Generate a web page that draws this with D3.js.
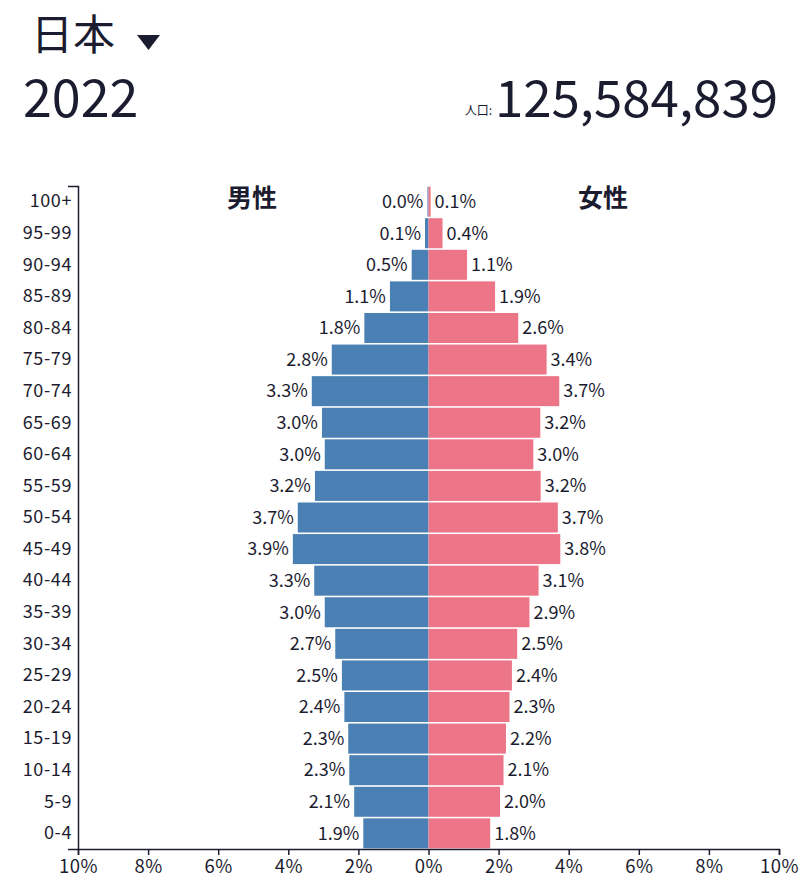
<!DOCTYPE html>
<html>
<head>
<meta charset="utf-8">
<script src="https://cdn.jsdelivr.net/npm/d3@7"></script>
<style>
  body { margin: 0; background: #fff; }
  svg text { font-family: "Noto Sans CJK JP", "Noto Sans", sans-serif; fill: #1c1c30; }
</style>
</head>
<body>
<svg id="chart"></svg>
<script>
var width = 800;
var height = 894;

// age groups, top to bottom
var ages = ["100+", "95-99", "90-94", "85-89", "80-84", "75-79", "70-74", "65-69",
  "60-64", "55-59", "50-54", "45-49", "40-44", "35-39", "30-34", "25-29",
  "20-24", "15-19", "10-14", "5-9", "0-4"];

// share of total population (%)
var male = [0.03, 0.1, 0.48, 1.1, 1.83, 2.76, 3.33, 3.04, 2.96, 3.24, 3.73, 3.87,
  3.26, 2.96, 2.66, 2.47, 2.4, 2.29, 2.26, 2.12, 1.86];
var female = [0.06, 0.4, 1.1, 1.9, 2.56, 3.37, 3.73, 3.19, 2.99, 3.2, 3.69, 3.76,
  3.14, 2.88, 2.53, 2.38, 2.31, 2.21, 2.14, 2.04, 1.76];

var xTicks = [-10, -8, -6, -4, -2, 0, 2, 4, 6, 8, 10];

var country = "日本";
var year = "2022";
var population = 125584839;

var ink = "#1c1c30";
var maleColor = "#4a80b4";
var femaleColor = "#ec7587";

var svg = d3.select("#chart")
  .attr("width", width)
  .attr("height", height);

// header
svg.append("text")
  .attr("x", 31).attr("y", 50)
  .attr("font-size", "42px")
  .text(country);

svg.append("path")
  .attr("d", "M137,35 L160,35 L148.5,50 Z")
  .attr("fill", ink);

svg.append("text")
  .attr("x", 23).attr("y", 117)
  .attr("font-size", "52px")
  .attr("font-family", "'Noto Sans', sans-serif")
  .text(year);

svg.append("text")
  .attr("x", 778).attr("y", 117)
  .attr("text-anchor", "end")
  .attr("font-size", "51px")
  .attr("font-family", "'Noto Sans', sans-serif")
  .text(d3.format(",")(population));

svg.append("text")
  .attr("x", 492).attr("y", 115)
  .attr("text-anchor", "end")
  .attr("font-size", "12px")
  .text("人口:");

// scales
var x = d3.scaleLinear().domain([-10, 10]).range([78, 779]);
var y = d3.scaleBand().domain(ages).range([186, 849])
  .paddingInner(0.05).paddingOuter(0.02);

var rows = ages.map(function (a, i) {
  return { age: a, male: male[i], female: female[i] };
});

var g = svg.append("g");

g.selectAll(".bar_m")
  .data(rows).enter().append("rect")
  .attr("class", "bar_m")
  .attr("x", function (d) { return x(-d.male); })
  .attr("y", function (d) { return y(d.age); })
  .attr("width", function (d) { return x(0) - x(-d.male); })
  .attr("height", y.bandwidth())
  .attr("fill", maleColor);

g.selectAll(".bar_f")
  .data(rows).enter().append("rect")
  .attr("class", "bar_f")
  .attr("x", x(0))
  .attr("y", function (d) { return y(d.age); })
  .attr("width", function (d) { return x(d.female) - x(0); })
  .attr("height", y.bandwidth())
  .attr("fill", femaleColor);

var fmt = function (v) { return v.toFixed(1) + "%"; };

g.selectAll(".lbl_m")
  .data(rows).enter().append("text")
  .attr("class", "lbl_m")
  .attr("x", function (d) { return x(-d.male) - 4; })
  .attr("y", function (d) { return y(d.age) + y.bandwidth() / 2; })
  .attr("dy", "0.35em")
  .attr("text-anchor", "end")
  .style("font-size", "18px")
  .text(function (d) { return fmt(d.male); });

g.selectAll(".lbl_f")
  .data(rows).enter().append("text")
  .attr("class", "lbl_f")
  .attr("x", function (d) { return x(d.female) + 4; })
  .attr("y", function (d) { return y(d.age) + y.bandwidth() / 2; })
  .attr("dy", "0.35em")
  .style("font-size", "18px")
  .text(function (d) { return fmt(d.female); });

// axes
var yAxis = svg.append("g")
  .attr("transform", "translate(78,0)")
  .call(d3.axisLeft(y).tickSizeInner(0).tickSizeOuter(10).tickPadding(6));
yAxis.selectAll(".tick text")
  .style("font-size", "18px")
  .style("letter-spacing", "0.6px")
  .attr("fill", ink);
yAxis.select(".domain").attr("stroke", ink).attr("stroke-width", 1.5);

var xAxis = svg.append("g")
  .attr("transform", "translate(0,849)")
  .call(d3.axisBottom(x).tickValues(xTicks).tickSize(6).tickPadding(5)
    .tickFormat(function (d) { return Math.abs(d) + "%"; }));
xAxis.selectAll(".tick text")
  .style("font-size", "18.5px")
  .style("letter-spacing", "0.5px")
  .attr("fill", ink);
xAxis.selectAll(".tick line").attr("stroke", ink).attr("stroke-width", 1.5);
xAxis.select(".domain").attr("stroke", ink).attr("stroke-width", 1.5);

// series titles
svg.append("text")
  .attr("x", 252).attr("y", 207)
  .attr("text-anchor", "middle")
  .attr("font-size", "25px")
  .attr("font-weight", "bold")
  .text("男性");

svg.append("text")
  .attr("x", 603).attr("y", 207)
  .attr("text-anchor", "middle")
  .attr("font-size", "25px")
  .attr("font-weight", "bold")
  .text("女性");
</script>
</body>
</html>
